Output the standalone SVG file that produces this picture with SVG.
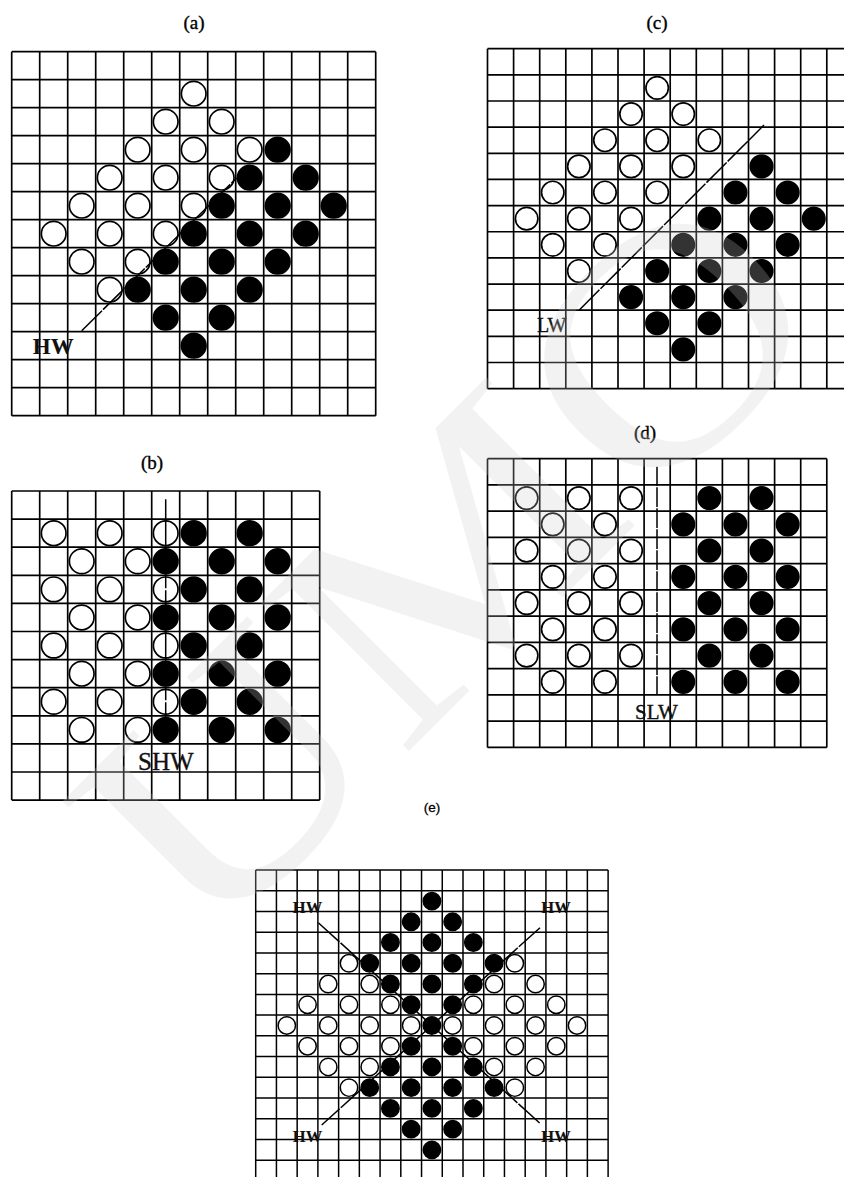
<svg xmlns="http://www.w3.org/2000/svg" width="844" height="1177" viewBox="0 0 844 1177">
<style>
.grid{fill:none;stroke:#000}
.w{fill:#fff;stroke:#000}
.k{fill:#000;stroke:#000}
.p28 .grid,.p28 circle{stroke-width:.06}
.p26 .grid,.p26 circle{stroke-width:.064}
.p21 .grid,.p21 circle{stroke-width:.072}
.p28 circle{r:.44px}
.p26 circle{r:.43px}
.p21 circle{r:.42px}
.title{font-family:"Liberation Serif",serif;font-size:19px;text-anchor:middle;fill:#000;stroke:#000;stroke-width:.35}
.lab{font-family:"Liberation Serif",serif;text-anchor:middle;fill:#111;stroke:#111;stroke-width:.35}
.hw{font-weight:bold;stroke-width:.1}
.ln{fill:none;stroke:#000;stroke-width:1.5}
.wm{font-family:"Liberation Serif",serif;font-size:320px;fill:#ccc;opacity:.25}
</style>
<rect width="844" height="1177" fill="#fff"/>

<g id="panel-a" class="p28" transform="translate(11.7 51.7) scale(28)">
<path class="grid" d="M0 0H13M0 1H13M0 2H13M0 3H13M0 4H13M0 5H13M0 6H13M0 7H13M0 8H13M0 9H13M0 10H13M0 11H13M0 12H13M0 13H13M0 0V13M1 0V13M2 0V13M3 0V13M4 0V13M5 0V13M6 0V13M7 0V13M8 0V13M9 0V13M10 0V13M11 0V13M12 0V13M13 0V13"/>
<circle class="w" cx="6.5" cy="1.5"/><circle class="w" cx="5.5" cy="2.5"/><circle class="w" cx="7.5" cy="2.5"/>
<circle class="w" cx="4.5" cy="3.5"/><circle class="w" cx="6.5" cy="3.5"/><circle class="w" cx="8.5" cy="3.5"/><circle class="k" cx="9.5" cy="3.5"/>
<circle class="w" cx="3.5" cy="4.5"/><circle class="w" cx="5.5" cy="4.5"/><circle class="w" cx="7.5" cy="4.5"/><circle class="k" cx="8.5" cy="4.5"/><circle class="k" cx="10.5" cy="4.5"/>
<circle class="w" cx="2.5" cy="5.5"/><circle class="w" cx="4.5" cy="5.5"/><circle class="w" cx="6.5" cy="5.5"/><circle class="k" cx="7.5" cy="5.5"/><circle class="k" cx="9.5" cy="5.5"/><circle class="k" cx="11.5" cy="5.5"/>
<circle class="w" cx="1.5" cy="6.5"/><circle class="w" cx="3.5" cy="6.5"/><circle class="w" cx="5.5" cy="6.5"/><circle class="k" cx="6.5" cy="6.5"/><circle class="k" cx="8.5" cy="6.5"/><circle class="k" cx="10.5" cy="6.5"/>
<circle class="w" cx="2.5" cy="7.5"/><circle class="w" cx="4.5" cy="7.5"/><circle class="k" cx="5.5" cy="7.5"/><circle class="k" cx="7.5" cy="7.5"/><circle class="k" cx="9.5" cy="7.5"/>
<circle class="w" cx="3.5" cy="8.5"/><circle class="k" cx="4.5" cy="8.5"/><circle class="k" cx="6.5" cy="8.5"/><circle class="k" cx="8.5" cy="8.5"/>
<circle class="k" cx="5.5" cy="9.5"/><circle class="k" cx="7.5" cy="9.5"/><circle class="k" cx="6.5" cy="10.5"/>
</g>

<g id="panel-c" class="p26" transform="translate(487.5 48.7) scale(26.1 26.15)">
<path class="grid" d="M0 0H14M0 1H14M0 2H14M0 3H14M0 4H14M0 5H14M0 6H14M0 7H14M0 8H14M0 9H14M0 10H14M0 11H14M0 12H14M0 13H14M0 0V13M1 0V13M2 0V13M3 0V13M4 0V13M5 0V13M6 0V13M7 0V13M8 0V13M9 0V13M10 0V13M11 0V13M12 0V13M13 0V13"/>
<circle class="w" cx="6.5" cy="1.5"/><circle class="w" cx="5.5" cy="2.5"/><circle class="w" cx="7.5" cy="2.5"/>
<circle class="w" cx="4.5" cy="3.5"/><circle class="w" cx="6.5" cy="3.5"/><circle class="w" cx="8.5" cy="3.5"/>
<circle class="w" cx="3.5" cy="4.5"/><circle class="w" cx="5.5" cy="4.5"/><circle class="w" cx="7.5" cy="4.5"/><circle class="k" cx="10.5" cy="4.5"/>
<circle class="w" cx="2.5" cy="5.5"/><circle class="w" cx="4.5" cy="5.5"/><circle class="w" cx="6.5" cy="5.5"/><circle class="k" cx="9.5" cy="5.5"/><circle class="k" cx="11.5" cy="5.5"/>
<circle class="w" cx="1.5" cy="6.5"/><circle class="w" cx="3.5" cy="6.5"/><circle class="w" cx="5.5" cy="6.5"/><circle class="k" cx="8.5" cy="6.5"/><circle class="k" cx="10.5" cy="6.5"/><circle class="k" cx="12.5" cy="6.5"/>
<circle class="w" cx="2.5" cy="7.5"/><circle class="w" cx="4.5" cy="7.5"/><circle class="k" cx="7.5" cy="7.5"/><circle class="k" cx="9.5" cy="7.5"/><circle class="k" cx="11.5" cy="7.5"/>
<circle class="w" cx="3.5" cy="8.5"/><circle class="k" cx="6.5" cy="8.5"/><circle class="k" cx="8.5" cy="8.5"/><circle class="k" cx="10.5" cy="8.5"/>
<circle class="k" cx="5.5" cy="9.5"/><circle class="k" cx="7.5" cy="9.5"/><circle class="k" cx="9.5" cy="9.5"/>
<circle class="k" cx="6.5" cy="10.5"/><circle class="k" cx="8.5" cy="10.5"/><circle class="k" cx="7.5" cy="11.5"/>
</g>

<g id="panel-b" class="p28" transform="translate(11.7 491) scale(28 28.1)">
<path class="grid" d="M0 0H11M0 1H11M0 2H11M0 3H11M0 4H11M0 5H11M0 6H11M0 7H11M0 8H11M0 9H11M0 10H11M0 11H11M0 0V11M1 0V11M2 0V11M3 0V11M4 0V11M5 0V11M6 0V11M7 0V11M8 0V11M9 0V11M10 0V11M11 0V11"/>
<circle class="w" cx="1.5" cy="1.5"/><circle class="w" cx="3.5" cy="1.5"/><circle class="w" cx="5.5" cy="1.5"/><circle class="k" cx="6.5" cy="1.5"/><circle class="k" cx="8.5" cy="1.5"/>
<circle class="w" cx="2.5" cy="2.5"/><circle class="w" cx="4.5" cy="2.5"/><circle class="k" cx="5.5" cy="2.5"/><circle class="k" cx="7.5" cy="2.5"/><circle class="k" cx="9.5" cy="2.5"/>
<circle class="w" cx="1.5" cy="3.5"/><circle class="w" cx="3.5" cy="3.5"/><circle class="w" cx="5.5" cy="3.5"/><circle class="k" cx="6.5" cy="3.5"/><circle class="k" cx="8.5" cy="3.5"/>
<circle class="w" cx="2.5" cy="4.5"/><circle class="w" cx="4.5" cy="4.5"/><circle class="k" cx="5.5" cy="4.5"/><circle class="k" cx="7.5" cy="4.5"/><circle class="k" cx="9.5" cy="4.5"/>
<circle class="w" cx="1.5" cy="5.5"/><circle class="w" cx="3.5" cy="5.5"/><circle class="w" cx="5.5" cy="5.5"/><circle class="k" cx="6.5" cy="5.5"/><circle class="k" cx="8.5" cy="5.5"/>
<circle class="w" cx="2.5" cy="6.5"/><circle class="w" cx="4.5" cy="6.5"/><circle class="k" cx="5.5" cy="6.5"/><circle class="k" cx="7.5" cy="6.5"/><circle class="k" cx="9.5" cy="6.5"/>
<circle class="w" cx="1.5" cy="7.5"/><circle class="w" cx="3.5" cy="7.5"/><circle class="w" cx="5.5" cy="7.5"/><circle class="k" cx="6.5" cy="7.5"/><circle class="k" cx="8.5" cy="7.5"/>
<circle class="w" cx="2.5" cy="8.5"/><circle class="w" cx="4.5" cy="8.5"/><circle class="k" cx="5.5" cy="8.5"/><circle class="k" cx="7.5" cy="8.5"/><circle class="k" cx="9.5" cy="8.5"/>
</g>

<g id="panel-d" class="p26" transform="translate(487.5 458.7) scale(26.1 26.25)">
<path class="grid" d="M0 0H13M0 1H13M0 2H13M0 3H13M0 4H13M0 5H13M0 6H13M0 7H13M0 8H13M0 9H13M0 10H13M0 11H13M0 0V11M1 0V11M2 0V11M3 0V11M4 0V11M5 0V11M6 0V11M7 0V11M8 0V11M9 0V11M10 0V11M11 0V11M12 0V11M13 0V11"/>
<circle class="w" cx="1.5" cy="1.5"/><circle class="w" cx="3.5" cy="1.5"/><circle class="w" cx="5.5" cy="1.5"/><circle class="k" cx="8.5" cy="1.5"/><circle class="k" cx="10.5" cy="1.5"/>
<circle class="w" cx="2.5" cy="2.5"/><circle class="w" cx="4.5" cy="2.5"/><circle class="k" cx="7.5" cy="2.5"/><circle class="k" cx="9.5" cy="2.5"/><circle class="k" cx="11.5" cy="2.5"/>
<circle class="w" cx="1.5" cy="3.5"/><circle class="w" cx="3.5" cy="3.5"/><circle class="w" cx="5.5" cy="3.5"/><circle class="k" cx="8.5" cy="3.5"/><circle class="k" cx="10.5" cy="3.5"/>
<circle class="w" cx="2.5" cy="4.5"/><circle class="w" cx="4.5" cy="4.5"/><circle class="k" cx="7.5" cy="4.5"/><circle class="k" cx="9.5" cy="4.5"/><circle class="k" cx="11.5" cy="4.5"/>
<circle class="w" cx="1.5" cy="5.5"/><circle class="w" cx="3.5" cy="5.5"/><circle class="w" cx="5.5" cy="5.5"/><circle class="k" cx="8.5" cy="5.5"/><circle class="k" cx="10.5" cy="5.5"/>
<circle class="w" cx="2.5" cy="6.5"/><circle class="w" cx="4.5" cy="6.5"/><circle class="k" cx="7.5" cy="6.5"/><circle class="k" cx="9.5" cy="6.5"/><circle class="k" cx="11.5" cy="6.5"/>
<circle class="w" cx="1.5" cy="7.5"/><circle class="w" cx="3.5" cy="7.5"/><circle class="w" cx="5.5" cy="7.5"/><circle class="k" cx="8.5" cy="7.5"/><circle class="k" cx="10.5" cy="7.5"/>
<circle class="w" cx="2.5" cy="8.5"/><circle class="w" cx="4.5" cy="8.5"/><circle class="k" cx="7.5" cy="8.5"/><circle class="k" cx="9.5" cy="8.5"/><circle class="k" cx="11.5" cy="8.5"/>
</g>

<g id="panel-e" class="p21" transform="translate(255.7 870) scale(20.73)">
<path class="grid" d="M0 0H17M0 1H17M0 2H17M0 3H17M0 4H17M0 5H17M0 6H17M0 7H17M0 8H17M0 9H17M0 10H17M0 11H17M0 12H17M0 13H17M0 14H17M0 0V15.5M1 0V15.5M2 0V15.5M3 0V15.5M4 0V15.5M5 0V15.5M6 0V15.5M7 0V15.5M8 0V15.5M9 0V15.5M10 0V15.5M11 0V15.5M12 0V15.5M13 0V15.5M14 0V15.5M15 0V15.5M16 0V15.5M17 0V15.5"/>
<circle class="k" cx="8.5" cy="1.5"/>
<circle class="k" cx="7.5" cy="2.5"/><circle class="k" cx="9.5" cy="2.5"/>
<circle class="k" cx="6.5" cy="3.5"/><circle class="k" cx="8.5" cy="3.5"/><circle class="k" cx="10.5" cy="3.5"/>
<circle class="w" cx="4.5" cy="4.5"/><circle class="k" cx="5.5" cy="4.5"/><circle class="k" cx="7.5" cy="4.5"/><circle class="k" cx="9.5" cy="4.5"/><circle class="k" cx="11.5" cy="4.5"/><circle class="w" cx="12.5" cy="4.5"/>
<circle class="w" cx="3.5" cy="5.5"/><circle class="w" cx="5.5" cy="5.5"/><circle class="k" cx="6.5" cy="5.5"/><circle class="k" cx="8.5" cy="5.5"/><circle class="k" cx="10.5" cy="5.5"/><circle class="w" cx="11.5" cy="5.5"/><circle class="w" cx="13.5" cy="5.5"/>
<circle class="w" cx="2.5" cy="6.5"/><circle class="w" cx="4.5" cy="6.5"/><circle class="w" cx="6.5" cy="6.5"/><circle class="k" cx="7.5" cy="6.5"/><circle class="k" cx="9.5" cy="6.5"/><circle class="w" cx="10.5" cy="6.5"/><circle class="w" cx="12.5" cy="6.5"/><circle class="w" cx="14.5" cy="6.5"/>
<circle class="w" cx="1.5" cy="7.5"/><circle class="w" cx="3.5" cy="7.5"/><circle class="w" cx="5.5" cy="7.5"/><circle class="w" cx="7.5" cy="7.5"/><circle class="k" cx="8.5" cy="7.5"/><circle class="w" cx="9.5" cy="7.5"/><circle class="w" cx="11.5" cy="7.5"/><circle class="w" cx="13.5" cy="7.5"/><circle class="w" cx="15.5" cy="7.5"/>
<circle class="w" cx="2.5" cy="8.5"/><circle class="w" cx="4.5" cy="8.5"/><circle class="w" cx="6.5" cy="8.5"/><circle class="k" cx="7.5" cy="8.5"/><circle class="k" cx="9.5" cy="8.5"/><circle class="w" cx="10.5" cy="8.5"/><circle class="w" cx="12.5" cy="8.5"/><circle class="w" cx="14.5" cy="8.5"/>
<circle class="w" cx="3.5" cy="9.5"/><circle class="w" cx="5.5" cy="9.5"/><circle class="k" cx="6.5" cy="9.5"/><circle class="k" cx="8.5" cy="9.5"/><circle class="k" cx="10.5" cy="9.5"/><circle class="w" cx="11.5" cy="9.5"/><circle class="w" cx="13.5" cy="9.5"/>
<circle class="w" cx="4.5" cy="10.5"/><circle class="k" cx="5.5" cy="10.5"/><circle class="k" cx="7.5" cy="10.5"/><circle class="k" cx="9.5" cy="10.5"/><circle class="k" cx="11.5" cy="10.5"/><circle class="w" cx="12.5" cy="10.5"/>
<circle class="k" cx="6.5" cy="11.5"/><circle class="k" cx="8.5" cy="11.5"/><circle class="k" cx="10.5" cy="11.5"/>
<circle class="k" cx="7.5" cy="12.5"/><circle class="k" cx="9.5" cy="12.5"/>
<circle class="k" cx="8.5" cy="13.5"/>
</g>

<g id="connectors">
<line class="ln" stroke-dasharray="28.5 1.5" x1="81.7" y1="330.7" x2="236.7" y2="178"/>
<line class="ln" stroke-dasharray="28.5 1.5" x1="579.3" y1="310" x2="764" y2="125"/>
<line class="ln" stroke-dasharray="110 2" stroke-dashoffset="21" x1="165.7" y1="499.3" x2="165.7" y2="727"/>
<line class="ln" stroke-dasharray="19.8 1.2" stroke-dashoffset=".5" x1="657" y1="466.7" x2="657" y2="694"/>
<line class="ln" stroke-dasharray="28.5 1.5" x1="318.3" y1="922.7" x2="540" y2="1123.3"/>
<line class="ln" stroke-dasharray="28.5 1.5" x1="540" y1="927.7" x2="321.7" y2="1125"/>
</g>

<g id="labels">
<text class="title" x="194" y="29">(a)</text>
<text class="title" x="152" y="469">(b)</text>
<text class="title" x="657" y="29">(c)</text>
<text class="title" x="645" y="439">(d)</text>
<text x="432" y="812" text-anchor="middle" font-family="'Liberation Sans',sans-serif" font-size="13.5" fill="#000" stroke="#000" stroke-width=".3">(e)</text>
<text class="lab hw" x="53.3" y="354" font-size="23">HW</text>
<text class="lab" x="551.7" y="331.7" font-size="20">LW</text>
<text class="lab" x="165.8" y="770" font-size="25">SHW</text>
<text class="lab" x="656.5" y="719" font-size="21">SLW</text>
<text class="lab hw" x="307.5" y="913.3" font-size="16.5">HW</text>
<text class="lab hw" x="556" y="913.3" font-size="16.5">HW</text>
<text class="lab hw" x="307.5" y="1141.7" font-size="16.5">HW</text>
<text class="lab hw" x="556" y="1141.7" font-size="16.5">HW</text>
</g>

<text id="watermark" class="wm" transform="translate(205 955) rotate(-45) scale(1.2 1)">UMO</text>
</svg>
